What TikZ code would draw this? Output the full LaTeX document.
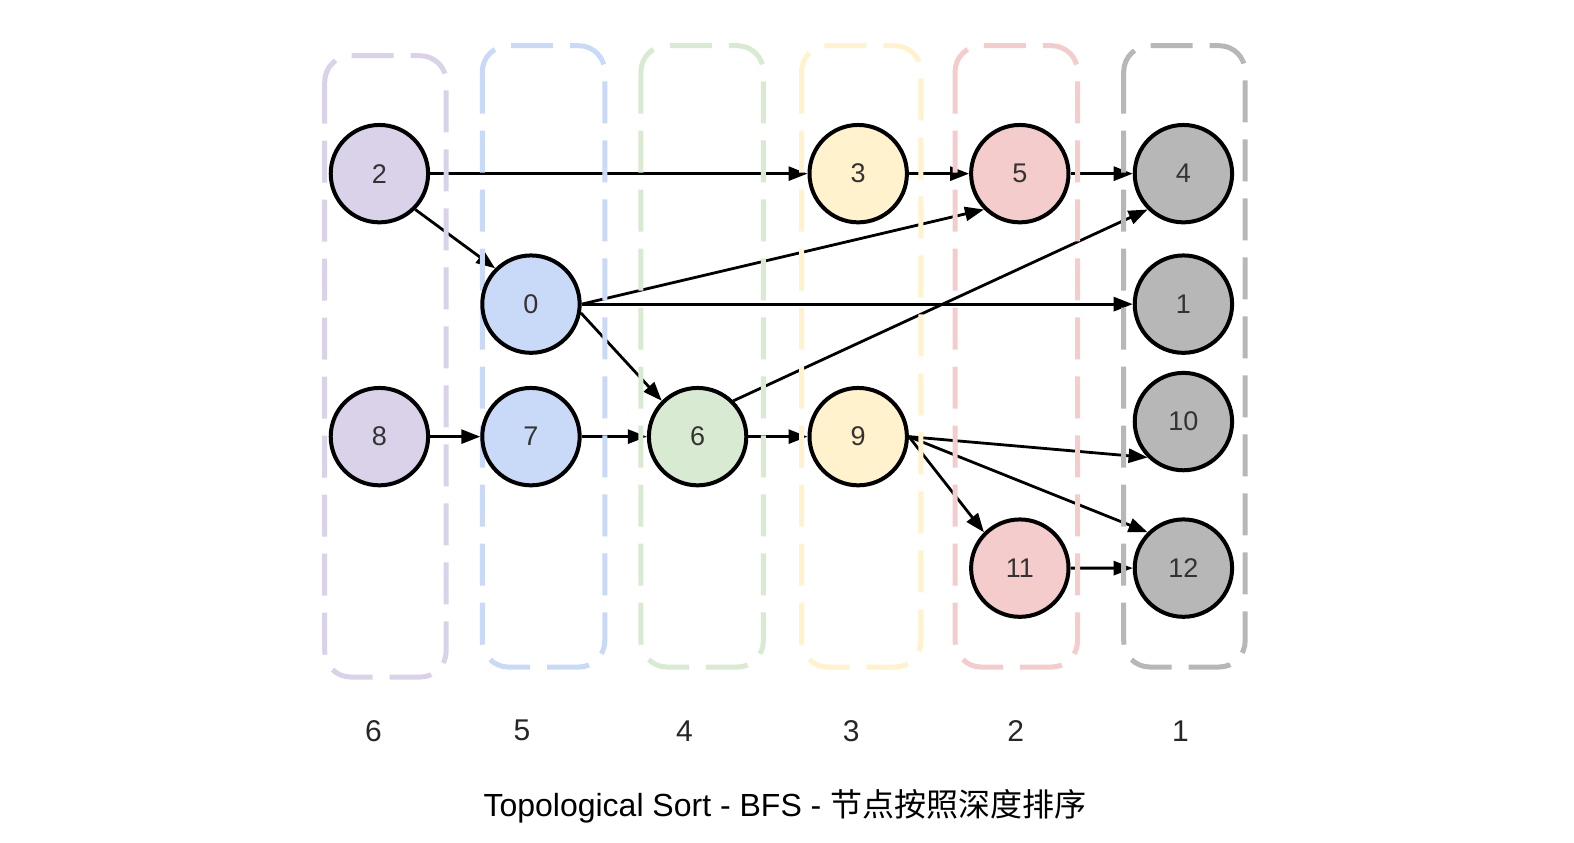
\documentclass[tikz,border=0pt]{standalone}
\usepackage{fontspec}
\setmainfont{Liberation Sans}
\newfontfamily\cjk{Noto Sans CJK SC}
\usetikzlibrary{positioning,arrows.meta}

\definecolor{lilac}{HTML}{D9D2E9}
\definecolor{sky}{HTML}{C9DAF8}
\definecolor{mint}{HTML}{D9EAD3}
\definecolor{cream}{HTML}{FFF2CC}
\definecolor{rose}{HTML}{F4CCCC}
\definecolor{ash}{HTML}{B7B7B7}

\pgfdeclarelayer{links}
\pgfdeclarelayer{lanes}
\pgfsetlayers{links,lanes,main}

\begin{document}
\begin{tikzpicture}[%
x=0.501875pt, y=-0.501875pt,
>={Triangle[length=9.5pt,width=7pt]},
on grid,
vertex/.style={circle, draw, line width=2pt, minimum size=48.7pt, inner sep=0pt,
  text=black!80, font=\fontsize{13.5}{15}\selectfont},
lane/.style={draw=#1, line width=2.5pt, dash pattern=on 21pt off 8.5pt,
  rounded corners=13pt},
level/.style={text=black!85, font=\fontsize{15}{18}\selectfont},
link/.style={->, line width=1.4pt}
]
\useasboundingbox (0,0) rectangle (1568.12,838.85);

\node[vertex, fill=lilac] (n2) at (378,173) {2};
\node[vertex, fill=lilac] (n8) [below=131.49pt of n2] {8};
\node[vertex, fill=sky] (n0) [below right=65.24pt and 75.78pt of n2] {0};
\node[vertex, fill=sky] (n7) [below=66.25pt of n0] {7};
\node[vertex, fill=mint] (n6) [right=83.31pt of n7] {6};
\node[vertex, fill=cream] (n9) [right=80.3pt of n6] {9};
\node[vertex, fill=cream] (n3) [above=131.49pt of n9] {3};
\node[vertex, fill=rose] (n5) [right=80.8pt of n3] {5};
\node[vertex, fill=rose] (n11) [below=197.24pt of n5] {11};
\node[vertex, fill=ash] (n4) [right=81.81pt of n5] {4};
\node[vertex, fill=ash] (n1) [below=65.24pt of n4] {1};
\node[vertex, fill=ash] (n10) [below=58.72pt of n1] {10};
\node[vertex, fill=ash] (n12) [below=73.27pt of n10] {12};

\begin{pgfonlayer}{links}
\path[link] (n2) edge (n3);
\path[link] (n2.315) edge (n0.135);
\path[link] (n3) edge (n5);
\path[link] (n5) edge (n4);
\path[link] (n0.east) edge (n5.225);
\path[link] (n0) edge (n1);
\path[link] (n0.350) edge (n6.135);
\path[link] (n6.45) edge (n4.225);
\path[link] (n8) edge (n7);
\path[link] (n7) edge (n6);
\path[link] (n6) edge (n9);
\path[link] (n9.east) edge (n10.225);
\path[link] (n9.east) edge (n12.135);
\path[link] (n9.east) edge (n11.135);
\path[link] (n11) edge (n12);
\end{pgfonlayer}

\begin{pgfonlayer}{lanes}
\draw[lane=lilac] (323.5,55.5) rectangle (444.5,674.5);
\draw[lane=sky] (480.5,45.5) rectangle (602.5,664.5);
\draw[lane=mint] (638.5,45.5) rectangle (760.5,664.5);
\draw[lane=cream] (798.5,45.5) rectangle (917.5,664.5);
\draw[lane=rose] (951.5,45.5) rectangle (1073.5,664.5);
\draw[lane=ash] (1119.5,45.5) rectangle (1240.5,664.5);
\end{pgfonlayer}

\node[level] (d6) at (372,728) {6};
\node[level] (d5) at (520,728) {5};
\node[level] (d4) at (682,728) {4};
\node[level] (d3) at (848,728) {3};
\node[level] (d2) at (1012,728) {2};
\node[level] (d1) at (1176,728) {1};

\node[font=\fontsize{16}{19}\selectfont] (title) at (782,803)
  {Topological Sort - BFS - {\cjk 节点按照深度排序}};

\end{tikzpicture}
\end{document}
